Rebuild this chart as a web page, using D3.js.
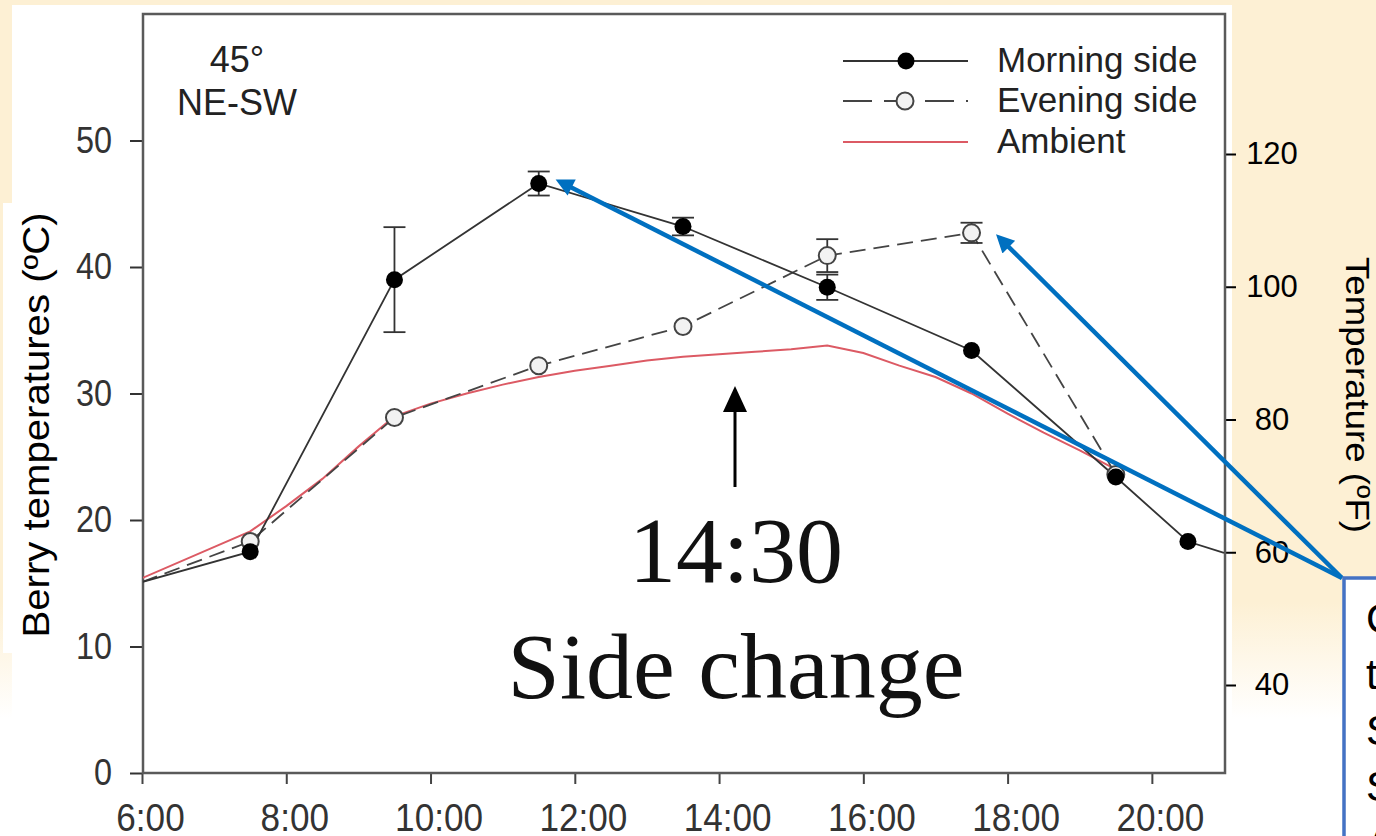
<!DOCTYPE html>
<html><head><meta charset="utf-8">
<script src="https://cdn.jsdelivr.net/npm/d3@7"></script>
<style>body{margin:0;background:#fff;} svg{display:block;}</style>
</head><body>
<svg id="c" width="1376" height="836"></svg>
<script>
// ---- data ----
const hours = [6, 7.5, 9.5, 11.5, 13.5, 15.5, 17.5, 19.5, 20.5, 21];
const morning = [15.1, 17.5, 39.0, 46.6, 43.2, 38.4, 33.4, 23.4, 18.3, 17.4];
const morningErr = [0, 0, 4.15, 0.95, 0.7, 1.0, 0, 0, 0, 0];
const eveningHours = [6, 7.5, 9.5, 11.5, 13.5, 15.5, 17.5, 19.5];
const evening = [15.1, 18.3, 28.1, 32.2, 35.3, 40.9, 42.7, 23.6];
const eveningErr = [0, 0, 0, 0, 0, 1.3, 0.8, 0];
const ambientHours = [6,7.5,8,8.5,9,9.5,10,10.5,11,11.5,12,12.5,13,13.5,14,14.5,15,15.5,16,16.5,17,17.5,18,18.5,19,19.5];
const ambient = [15.4,19.1,21.1,23.25,25.8,28.2,29.2,30.0,30.7,31.3,31.8,32.2,32.6,32.9,33.1,33.3,33.5,33.8,33.2,32.2,31.3,30.0,28.4,26.9,25.5,24.0];
const xTicks = [6,8,10,12,14,16,18,20];
const yTicks = [0,10,20,30,40,50];
const fTicks = [40,60,80,100,120];
const legendLabels = ["Morning side","Evening side","Ambient"];
const boxLines = ["Change","the","Sampling","Side","At 14:30"];

const svg = d3.select("#c");
const SANS = "'Liberation Sans', Arial, sans-serif";
const SERIF = "'Liberation Serif', 'Times New Roman', serif";

const L = 143, R = 1225, T = 14, B = 773;
const x = d3.scaleLinear().domain([6,21]).range([142,1224]);
const y = d3.scaleLinear().domain([0,60]).range([773,14]);
const yF = d3.scaleLinear().domain([40,120]).range([685,154]);

const defs = svg.append("defs");
const g1 = defs.append("linearGradient").attr("id","bg").attr("x1",0).attr("y1",0).attr("x2",0).attr("y2",1);
g1.append("stop").attr("offset",0).attr("stop-color","#FDF0D4");
g1.append("stop").attr("offset",0.72).attr("stop-color","#FDF0D4");
g1.append("stop").attr("offset",0.86).attr("stop-color","#ffffff");
defs.append("clipPath").attr("id","plot").append("rect").attr("x",L).attr("y",T).attr("width",R-L).attr("height",B-T);
const mk = defs.append("marker").attr("id","bluehead").attr("viewBox","0 0 10 10")
  .attr("refX",4.5).attr("refY",5).attr("markerWidth",22).attr("markerHeight",18)
  .attr("markerUnits","userSpaceOnUse").attr("orient","auto");
mk.append("path").attr("d","M0,0 L10,5 L0,10 z").attr("fill","#0070C0");

// backgrounds
svg.append("rect").attr("width",1376).attr("height",836).attr("fill","url(#bg)");
svg.append("rect").attr("x",12).attr("y",5).attr("width",1220).attr("height",831).attr("fill","#fff");
svg.append("rect").attr("x",3).attr("y",203).attr("width",12).attr("height",450).attr("fill","#fff");

function condense(sel, k){
  sel.each(function(){
    const w = this.getComputedTextLength();
    d3.select(this).attr("textLength", w*k).attr("lengthAdjust","spacingAndGlyphs");
  });
}

// axes
const ax = svg.append("g").attr("transform",`translate(${L},0)`)
  .call(d3.axisLeft(y).tickValues(yTicks).tickSize(13).tickPadding(18));
ax.select(".domain").remove();
ax.selectAll("line").attr("stroke","#333").attr("stroke-width",2);
ax.selectAll("text").attr("font-family",SANS).attr("font-size",36).attr("fill","#333");
condense(ax.selectAll("text"), 0.9);

const bx = svg.append("g").attr("transform",`translate(0,${B})`)
  .call(d3.axisBottom(x).tickValues(xTicks).tickSize(11).tickPadding(19).tickFormat(d=>d+":00"));
bx.select(".domain").remove();
bx.selectAll("line").attr("stroke","#444").attr("stroke-width",2);
bx.selectAll("text").attr("font-family",SANS).attr("font-size",39).attr("fill","#333").attr("dx",8);
condense(bx.selectAll("text"), 0.9);

const rx = svg.append("g").attr("transform",`translate(${R},0)`)
  .call(d3.axisRight(yF).tickValues(fTicks).tickSize(11));
rx.select(".domain").remove();
rx.selectAll("line").attr("stroke","#000").attr("stroke-width",2);
rx.selectAll("text").attr("x",47).attr("text-anchor","middle")
  .attr("font-family",SANS).attr("font-size",31).attr("fill","#000");

// frame
svg.append("rect").attr("x",L).attr("y",T).attr("width",R-L).attr("height",B-T)
  .attr("fill","none").attr("stroke","#5a5a5a").attr("stroke-width",2.5);

// axis titles
svg.append("text").attr("transform","translate(49,425) rotate(-90)").attr("text-anchor","middle")
  .attr("font-family",SANS).attr("font-size",36).attr("fill","#000")
  .attr("textLength",425).attr("lengthAdjust","spacingAndGlyphs").text("Berry temperatures (ºC)");
svg.append("text").attr("transform","translate(1346,395) rotate(90)").attr("text-anchor","middle")
  .attr("font-family",SANS).attr("font-size",34).attr("fill","#000")
  .attr("textLength",276).attr("lengthAdjust","spacingAndGlyphs").text("Temperature (ºF)");

// data
const plot = svg.append("g").attr("clip-path","url(#plot)");
const line = d3.line().x(d=>x(d[0])).y(d=>y(d[1]));
plot.append("path").datum(ambientHours.map((h,i)=>[h,ambient[i]])).attr("d",line)
  .attr("fill","none").attr("stroke","#dc5a64").attr("stroke-width",2);
plot.append("path").datum(eveningHours.map((h,i)=>[h,evening[i]])).attr("d",line)
  .attr("fill","none").attr("stroke","#444").attr("stroke-width",1.8).attr("stroke-dasharray","16,8");
plot.append("path").datum(hours.map((h,i)=>[h,morning[i]])).attr("d",line)
  .attr("fill","none").attr("stroke","#333").attr("stroke-width",1.8);

function errBars(hs, vs, es){
  const d = hs.map((h,i)=>({h, v:vs[i], e:es[i]})).filter(p=>p.e>0);
  const g = plot.append("g").attr("stroke","#333").attr("stroke-width",1.8).attr("fill","none");
  d.forEach(p=>{
    g.append("line").attr("x1",x(p.h)).attr("x2",x(p.h)).attr("y1",y(p.v+p.e)).attr("y2",y(p.v-p.e));
    [p.v+p.e, p.v-p.e].forEach(v=>g.append("line").attr("x1",x(p.h)-11).attr("x2",x(p.h)+11).attr("y1",y(v)).attr("y2",y(v)));
  });
}
errBars(eveningHours, evening, eveningErr);
plot.selectAll(".eo").data(eveningHours.map((h,i)=>[h,evening[i]]).filter(d=>d[0]>6&&d[0]<21))
  .enter().append("circle").attr("cx",d=>x(d[0])).attr("cy",d=>y(d[1])).attr("r",8.5)
  .attr("fill","#f2f2f2").attr("stroke","#444").attr("stroke-width",2);
errBars(hours, morning, morningErr);
plot.selectAll(".mo").data(hours.map((h,i)=>[h,morning[i]]).filter(d=>d[0]>6&&d[0]<21))
  .enter().append("circle").attr("cx",d=>x(d[0])).attr("cy",d=>y(d[1])).attr("r",8.5).attr("fill","#000");

// label top-left
svg.append("text").attr("x",237).attr("y",72).attr("text-anchor","middle")
  .attr("font-family",SANS).attr("font-size",36).attr("fill","#222").text("45°");
svg.append("text").attr("x",237).attr("y",115).attr("text-anchor","middle")
  .attr("font-family",SANS).attr("font-size",36).attr("fill","#222").text("NE-SW");

// legend
const lg = svg.append("g");
lg.append("line").attr("x1",843).attr("x2",968).attr("y1",61).attr("y2",61).attr("stroke","#333").attr("stroke-width",1.8);
lg.append("circle").attr("cx",906).attr("cy",61).attr("r",8.5).attr("fill","#000");
lg.append("line").attr("x1",843).attr("x2",968).attr("y1",101).attr("y2",101).attr("stroke","#444").attr("stroke-width",1.8).attr("stroke-dasharray","29,12");
lg.append("circle").attr("cx",905).attr("cy",101).attr("r",8.5).attr("fill","#f2f2f2").attr("stroke","#444").attr("stroke-width",2);
lg.append("line").attr("x1",843).attr("x2",968).attr("y1",142).attr("y2",142).attr("stroke","#dc5a64").attr("stroke-width",2);
legendLabels.forEach((t,i)=>lg.append("text").attr("x",997).attr("y",[72,112,153][i])
  .attr("font-family",SANS).attr("font-size",35).attr("fill","#222").text(t));

// side change annotation
svg.append("line").attr("x1",735).attr("x2",735).attr("y1",487).attr("y2",405).attr("stroke","#000").attr("stroke-width",3);
svg.append("path").attr("d","M735,386 L723,412 L747,412 Z").attr("fill","#000");
svg.append("text").attr("x",736).attr("y",582).attr("text-anchor","middle")
  .attr("font-family",SERIF).attr("font-size",94).attr("fill","#111").text("14:30");
svg.append("text").attr("x",736).attr("y",698).attr("text-anchor","middle")
  .attr("font-family",SERIF).attr("font-size",94).attr("fill","#111").text("Side change");

// callout box and arrows
const corner = [1342, 578];
function blueArrow(tx, ty){
  const dx = tx-corner[0], dy = ty-corner[1], len = Math.hypot(dx,dy);
  const ex = tx - dx/len*12, ey = ty - dy/len*12;
  svg.append("line").attr("x1",corner[0]).attr("y1",corner[1]).attr("x2",ex).attr("y2",ey)
    .attr("stroke","#0070C0").attr("stroke-width",4.5).attr("marker-end","url(#bluehead)");
}
blueArrow(x(11.5)+15, y(46.6)-5);
blueArrow(x(17.5)+23, y(42.7));
svg.append("rect").attr("x",1344).attr("y",578).attr("width",60).attr("height",300)
  .attr("fill","#fff").attr("stroke","#4472C4").attr("stroke-width",3.5);
boxLines.forEach((t,i)=>svg.append("text").attr("x",1366).attr("y",633+i*56)
  .attr("font-family",SANS).attr("font-size",42).attr("fill","#000").text(t));
</script>
</body></html>
